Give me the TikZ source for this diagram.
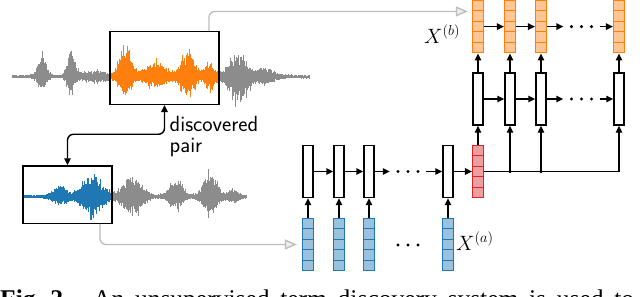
\documentclass[tikz,border=0pt]{standalone}
\usepackage{fontspec}
\usetikzlibrary{arrows.meta}
\newfontfamily\capfont{Liberation Serif}

\definecolor{tabblue}{RGB}{31,119,180}
\definecolor{taborange}{RGB}{255,127,14}
\definecolor{tabred}{RGB}{214,39,40}
\definecolor{wavegray}{RGB}{140,140,140}
\definecolor{feedgray}{RGB}{188,188,188}

\pgfmathdeclarefunction{bump}{3}{\pgfmathparse{exp(0-((#1-#2)/#3)^2)}}
\pgfmathdeclarefunction{envbu}{1}{\pgfmathparse{2+22*bump(#1,42,6)+28*bump(#1,71,5)+5*bump(#1,95,18)+37*bump(#1,125,7)+14*bump(#1,155,16)+25*bump(#1,188,9)+14*bump(#1,210,7)+23*bump(#1,238,12)+7*bump(#1,265,12)}}
\pgfmathdeclarefunction{envbd}{1}{\pgfmathparse{2+11*bump(#1,42,6)+14*bump(#1,71,5)+5*bump(#1,95,18)+20*bump(#1,125,7)+10*bump(#1,155,16)+19*bump(#1,188,9)+12*bump(#1,210,7)+25*bump(#1,238,12)+7*bump(#1,265,12)}}
\pgfmathdeclarefunction{envau}{1}{\pgfmathparse{2+11*bump(#1,60,9)+21*bump(#1,92,13)+21*bump(#1,132,13)+16*bump(#1,176,9)+25*bump(#1,210,9)+6*bump(#1,233,7)}}
\pgfmathdeclarefunction{envad}{1}{\pgfmathparse{2+8*bump(#1,60,9)+20*bump(#1,92,13)+18*bump(#1,132,13)+12*bump(#1,176,9)+19*bump(#1,210,9)+6*bump(#1,233,7)}}

\tikzset{
  rnn/.style={draw, line width=1.4pt, fill=white, minimum width=10pt, minimum height=52pt, inner sep=0pt},
  vec/.style={draw=#1, fill=#1!45!white, line width=1.2pt, minimum width=11pt, minimum height=52.5pt, inner sep=0pt,
    path picture={\foreach \k in {1,...,4}
      \draw[#1, line width=1pt] ([yshift=-\k*10.5pt]path picture bounding box.north west) -- ([yshift=-\k*10.5pt]path picture bounding box.north east);}},
  dotrow/.style={minimum width=36pt, minimum height=4pt, inner sep=0pt},
  segbox/.style={draw, line width=1.4pt, inner sep=0pt},
  link/.style={line width=1.4pt, ->},
  feed/.style={feedgray, line width=1.3pt, rounded corners=6pt, -{Triangle[length=12pt, width=10pt, fill=black!8]}},
}

\begin{document}
\begin{tikzpicture}[x=1pt, y=-1pt, >={Triangle[length=7pt, width=6.5pt]}]
\useasboundingbox (0,0) rectangle (640,297);

% the two recordings
\pgfmathsetseed{11}
\foreach \i in {0,...,496}{
  \pgfmathsetmacro\x{12+0.6*\i}
  \pgfmathsetmacro\yu{76.7-envbu(\x)*(0.45+0.4*rnd+0.4*rnd^8)}
  \pgfmathsetmacro\yd{76.7+envbd(\x)*(0.45+0.4*rnd+0.4*rnd^8)}
  \pgfmathtruncatemacro\inseg{and(\x>110.6,\x<218.6)}
  \ifnum\inseg=1 \def\wc{taborange}\else\def\wc{wavegray}\fi
  \draw[\wc, line width=0.7pt] (\x,\yu) -- (\x,\yd);
}
\foreach \i in {0,...,371}{
  \pgfmathsetmacro\x{24+0.6*\i}
  \pgfmathsetmacro\yu{196.7-envau(\x)*(0.45+0.4*rnd+0.4*rnd^8)}
  \pgfmathsetmacro\yd{196.7+envad(\x)*(0.45+0.4*rnd+0.4*rnd^8)}
  \pgfmathtruncatemacro\inseg{\x<111.4}
  \ifnum\inseg=1 \def\wc{tabblue}\else\def\wc{wavegray}\fi
  \draw[\wc, line width=0.7pt] (\x,\yu) -- (\x,\yd);
}
\node[segbox, minimum width=109pt, minimum height=72.6pt] (segb) at (164.5,68) {};
\node[segbox, minimum width=89pt, minimum height=57.3pt] (sega) at (67.5,194.6) {};
\draw[link, <->, rounded corners=6pt] (sega.north) -- ++(0,-31) -| (segb.south);
\node[anchor=base west, inner sep=0pt, align=left, font=\sffamily\fontsize{22}{20.5}\selectfont] (pairtext) at (169.5,152) {discovered\\pair};

% encoder
\foreach \n/\x in {1/308, 2/339, 3/369, 4/448}{
  \node[vec=tabblue] (in\n) at (\x,244.5) {};
  \node[rnn] (enc\n) at (\x,171.5) {};
  \draw[link] (in\n) -- (enc\n);
}
\node[dotrow] (dotsE) at (408,171.5) {};
\node[dotrow] (dotsI) at (408,245) {};
\node[vec=tabred] (ctx) at (478,171.5) {};
\draw[link] (enc1) -- (enc2);
\draw[link] (enc2) -- (enc3);
\draw[link] (enc3) -- (dotsE);
\draw[link] (dotsE) -- (enc4);
\draw[link] (enc4) -- (ctx);

% decoder
\foreach \n/\x in {1/478, 2/510, 3/541, 4/619}{
  \node[vec=taborange] (out\n) at (\x,26.6) {};
  \node[rnn] (dec\n) at (\x,99) {};
  \draw[link] (dec\n) -- (out\n);
}
\node[dotrow] (dotsD) at (581.5,99) {};
\node[dotrow] (dotsO) at (581.5,26.6) {};
\foreach \r in {dec,out}{
  \draw[link] (\r1) -- (\r2);
  \draw[link] (\r2) -- (\r3);
}
\draw[link] (dec3) -- (dotsD);
\draw[link] (dotsD) -- (dec4);
\draw[link] (out3) -- (dotsO);
\draw[link] (dotsO) -- (out4);
\foreach \d in {dotsE,dotsI,dotsD,dotsO}
  \foreach \k in {-10,0,10}
    \fill ([xshift=\k pt]\d) circle (1.7pt);

\draw[link] (ctx) -- (dec1);
\draw[link] (ctx.east) -| (dec4);
\foreach \n in {2,3}{
  \draw[link] (ctx.east -| dec\n) -- (dec\n);
  \fill (ctx.east -| dec\n) circle (1.9pt);
}

\node[anchor=base west, inner sep=0pt, font=\fontsize{21.5}{24}\selectfont] (xb) at (424,43.5) {$X^{(b)}$};
\node[anchor=base west, inner sep=0pt, font=\fontsize{21.5}{24}\selectfont] (xa) at (456,250.5) {$X^{(a)}$};

% segments fed to the network
\draw[feed] ([xshift=-10.8pt]segb.north east) |- ([xshift=-4pt, yshift=-11.7pt]out1.north west);
\draw[feed] ([xshift=-12.7pt]sega.south east) |- ([xshift=-5pt]in1.west);

\node[anchor=base west, inner sep=0pt, font=\capfont\fontsize{25.5}{30}\selectfont\bfseries] (figno) at (0,307) {Fig. 2.};
\node[anchor=base west, inner sep=0pt, font=\capfont\fontsize{25.5}{30}\selectfont] (captext) at (93,307) {\spaceskip=10.7pt An unsupervised term discovery system is used to};
\end{tikzpicture}
\end{document}
